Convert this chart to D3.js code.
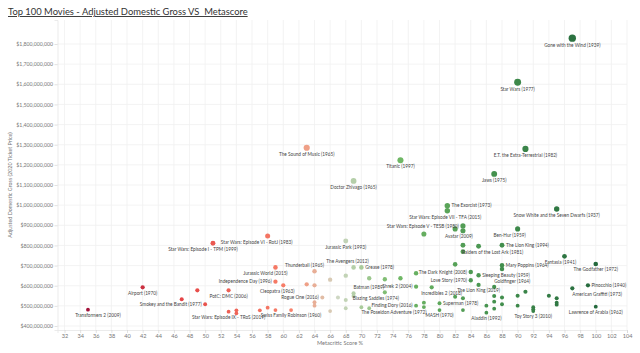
<!DOCTYPE html>
<html><head><meta charset="utf-8">
<script src="https://cdn.jsdelivr.net/npm/d3@7"></script>
<style>
body{margin:0;background:#fff;}
svg{display:block;font-family:Lato,"Open Sans",sans-serif;}
</style></head>
<body><svg id="c" width="640" height="353"></svg>
<script>
// ---- data (score = Metacritic %, gross = adjusted domestic gross in $M) ----
const scores = [97,90,91,63,75,69,87,81,81,95,82,83,83,90,78,68,58,51,83,83,85,88,96,100,82,88,88,84,85,84,85,87,99,97,69,70,64,59,59,60,63,64,66,68,65,64,64,67,68,69,69,73,71,73,75,77,77,79,42,35,47,50,49,53,53,54,54,57,58,59,61,66,68,70,71,77,78,78,80,80,83,86,86,87,87,88,90,92,92,92,95,95,100,82,88,90,91,94,95,83,87];
const grosses = [1829,1610,1279,1285,1223,1120,1155,997,972,981,882,897,873,882,857,822,847,811,801,769,796,801,746,708,706,701,683,668,652,627,604,594,602,587,691,691,672,691,620,602,607,602,630,650,541,518,501,541,529,562,549,567,637,632,637,595,662,592,592,481,533,508,577,577,471,478,463,478,491,479,479,474,488,493,488,501,516,494,513,479,479,501,466,521,486,508,501,493,483,474,516,506,496,545,541,550,570,550,538,538,549];
const titles = ["Gone with the Wind (1939)","Star Wars (1977)","E.T. the Extra-Terrestrial (1982)","The Sound of Music (1965)","Titanic (1997)","Doctor Zhivago (1965)","Jaws (1975)","The Exorcist (1973)","Star Wars: Episode VII - TFA (2015)","Snow White and the Seven Dwarfs (1937)","","Star Wars: Episode V - TESB (1980)","Avatar (2009)","Ben-Hur (1959)","","Jurassic Park (1993)","Star Wars: Episode VI - RotJ (1983)","Star Wars: Episode I - TPM (1999)","","","Raiders of the Lost Ark (1981)","The Lion King (1994)","Fantasia (1941)","The Godfather (1972)","","Mary Poppins (1964)","","The Dark Knight (2008)","Sleeping Beauty (1959)","Love Story (1970)","The Lion King (2019)","Goldfinger (1964)","Pinocchio (1940)","American Graffiti (1973)","The Avengers (2012)","Grease (1978)","Thunderball (1965)","Jurassic World (2015)","Independence Day (1996)","Cleopatra (1963)","","","","","Rogue One (2016)","","","","","Batman (1989)","","Blazing Saddles (1974)","","","","Shrek 2 (2004)","","Incredibles 2 (2018)","Airport (1970)","Transformers 2 (2009)","","Smokey and the Bandit (1977)","","PotC: DMC (2006)","Star Wars: Episode IX - TRoS (2019)","","","","","","Swiss Family Robinson (1960)","","","The Poseidon Adventure (1972)","","Finding Dory (2016)","","","Superman (1978)","MASH (1970)","","","Aladdin (1992)","","","","","","","Toy Story 3 (2010)","","","Lawrence of Arabia (1962)","","","","","","","",""];
const xTicks = d3.range(32, 105, 2);
const yTicks = d3.range(400, 1801, 100);

// ---- label placement (layout only): [position, dx] ----
const labelPlace = {
 "The Exorcist (1973)":["r",0],"Star Wars: Episode VII - TFA (2015)":["be",34],"Star Wars: Episode V - TESB (1980)":["l",0],
 "Avatar (2009)":["b",-4],"Ben-Hur (1959)":["b",-8],"Star Wars: Episode VI - RotJ (1983)":["b",-11],
 "Star Wars: Episode I - TPM (1999)":["b",-10],"Raiders of the Lost Ark (1981)":["b",14],"Fantasia (1941)":["b",-4],
 "The Lion King (1994)":["r",0],"Mary Poppins (1964)":["r",0],"The Dark Knight (2008)":["l",0],"Sleeping Beauty (1959)":["r",0],
 "Love Story (1970)":["l",0],"Goldfinger (1964)":["ts",0],"Pinocchio (1940)":["r",0],"American Graffiti (1973)":["bs",0],
 "The Avengers (2012)":["t",-6],"Grease (1978)":["r",0],"Thunderball (1965)":["t",-10],"Jurassic World (2015)":["b",-10],
 "Independence Day (1996)":["l",0],"Cleopatra (1963)":["b",-6],"Rogue One (2016)":["l",0],"Batman (1989)":["ts",0],
 "Blazing Saddles (1974)":["b",-9],"Shrek 2 (2004)":["l",0],"Incredibles 2 (2018)":["b",10],"Transformers 2 (2009)":["b",10],
 "Smokey and the Bandit (1977)":["l",0],"The Poseidon Adventure (1972)":["bs",0],"Finding Dory (2016)":["l",0],
 "Superman (1978)":["r",0]
};

const m = {l:57.5, r:627, t:20, b:330};
const svg = d3.select("#c");

const x = d3.scaleLinear().domain([31.1, 104.0]).range([m.l, m.r]);
const y = d3.scaleLinear().domain([400 - 4/0.2014, 1800 + 24/0.2014]).range([m.b, m.t]);
const rScale = d3.scaleSqrt().domain([0, 1829]).range([0, 3.7]);
const palette = ['#a3123a','#e33f43','#f8816b','#ced7c3','#73ba67','#44914e','#24693d'];
const paletteStops = [35, 46, 61, 67, 74, 87, 100];
const color = d3.scaleLinear().domain(paletteStops).range(palette).interpolate(d3.interpolateLab).clamp(true);

// title
svg.append("text").attr("x",8).attr("y",15).attr("font-size",9.4).attr("fill","#333")
  .attr("text-decoration","underline")
  .text("Top 100 Movies - Adjusted Domestic Gross VS\u00a0 Metascore");

// grid
const grid = svg.append("g");
grid.selectAll(".vg").data(xTicks).join("line")
  .attr("x1",d=>x(d)).attr("x2",d=>x(d)).attr("y1",m.t).attr("y2",m.b)
  .attr("stroke","#f0f0f0").attr("stroke-width",0.8);
grid.selectAll(".hg").data(yTicks).join("line")
  .attr("x1",m.l).attr("x2",m.r).attr("y1",d=>y(d)).attr("y2",d=>y(d))
  .attr("stroke","#f0f0f0").attr("stroke-width",0.8);

// axes
const fmt = d => "$" + d3.format(",")(d*1e6);
const yAxis = svg.append("g").attr("transform",`translate(${m.l},0)`)
  .call(d3.axisLeft(y).tickValues(yTicks).tickFormat(fmt).tickSize(3).tickPadding(1.5));
const xAxis = svg.append("g").attr("transform",`translate(0,${m.b})`)
  .call(d3.axisBottom(x).tickValues(xTicks).tickSize(3).tickPadding(1.5));
[yAxis,xAxis].forEach(g=>{
  g.select(".domain").attr("stroke","#e6e6e6").attr("stroke-width",0.8);
  g.selectAll(".tick line").attr("stroke","#cfcfcf").attr("stroke-width",0.6);
  g.selectAll("text").attr("fill","#777").attr("font-size",5.2).attr("font-family","Lato,'Open Sans',sans-serif");
});
xAxis.selectAll("text").attr("font-size",5.6);

// axis titles
svg.append("text").attr("x",340).attr("y",345).attr("text-anchor","middle")
  .attr("font-size",5.6).attr("fill","#777").text("Metacritic Score %");
svg.append("text").attr("transform","translate(12,185) rotate(-90)").attr("text-anchor","middle")
  .attr("font-size",5.4).attr("fill","#777").text("Adjusted Domestic Gross (2020 Ticket Price)");

// points
const data = scores.map((s,i)=>({s, g:grosses[i], t:titles[i]}));
const order = data.slice().sort((a,b)=>b.g-a.g);
svg.append("g").selectAll("circle").data(order).join("circle")
  .attr("cx",d=>x(d.s)).attr("cy",d=>y(d.g)).attr("r",d=>rScale(d.g))
  .attr("fill",d=>color(d.s));

// labels
const lab = svg.append("g").attr("font-size",4.7).attr("fill","#444");
data.filter(d=>d.t).forEach(d=>{
  const cx = x(d.s), cy = y(d.g), r = rScale(d.g);
  const [p, dx] = labelPlace[d.t] || ["b",0];
  let tx = cx + dx, ty = cy + r + 5.1, anc = "middle";
  if (p==="r"){tx = cx + r + 1.5 + dx; ty = cy + 1.7; anc="start";}
  if (p==="l"){tx = cx - r - 1.5 + dx; ty = cy + 1.7; anc="end";}
  if (p==="t"){ty = cy - r - 2;}
  if (p==="ts"){ty = cy - r - 2; anc="start";}
  if (p==="bs"){anc="start";}
  if (p==="be"){anc="end";}
  lab.append("text").attr("x",tx).attr("y",ty).attr("text-anchor",anc).text(d.t);
});
</script>
</body></html>
